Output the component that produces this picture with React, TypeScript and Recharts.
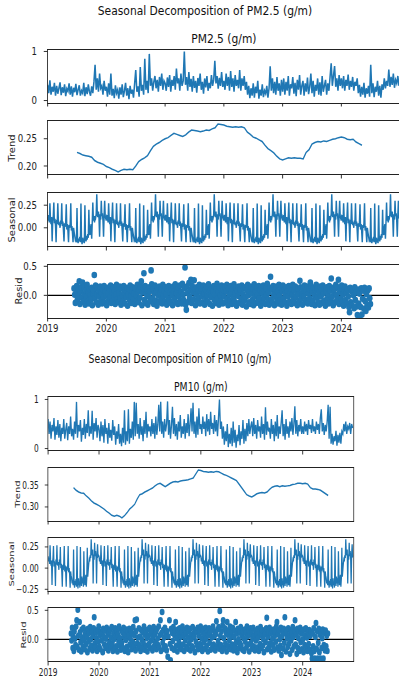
import React from 'react';
import { LineChart, Line, ComposedChart, Scatter, XAxis, YAxis } from 'recharts';

const BLUE = '#1f77b4';
const INK = '#222';

const yearTicks = [2019, 2020, 2021, 2022, 2023, 2024];
const xDomain: [number, number] = [2019, 2025];
const zeroLine = [{ t: 2019, v: 0 }, { t: 2025, v: 0 }];

// ---------- PM2.5 observed (weekly, normalised) ----------
const pm25Obs2019 = [0.32,0.15,0.41,0.12,0.28,0.18,0.36,0.1,0.3,0.14,0.25,0.37,0.11,0.27,0.16,0.33,0.09,0.24,0.19,0.35,0.12,0.29,0.08,0.26,0.17,0.34,0.11,0.22,0.31,0.1,0.2,0.15,0.36,0.09,0.27,0.13,0.33,0.18,0.1,0.29,0.15,0.38,0.73,0.22,0.45,0.18,0.55,0.25,0.3,0.12,0.4,0.2];
const pm25Obs2020 = [0.28,0.08,0.35,0.12,0.55,0.1,0.24,0.05,0.31,0.15,0.22,0.04,0.27,0.12,0.33,0.07,0.2,0.36,0.1,0.25,0.03,0.3,0.14,0.22,0.06,0.34,0.62,0.18,0.29,0.08,0.68,0.2,0.32,0.12,0.85,0.22,0.4,0.15,0.95,0.3,0.45,0.2,0.38,0.5,0.25,0.42,0.18,0.48,0.3,0.55,0.22,0.4];
const pm25Obs2021 = [0.35,0.2,0.47,0.28,0.52,0.18,0.42,0.3,0.5,0.22,0.65,0.35,0.45,0.2,0.55,0.3,0.4,1.0,0.32,0.48,0.2,0.58,0.28,0.44,0.18,0.5,0.26,0.4,0.16,0.46,0.3,0.55,0.22,0.38,0.14,0.45,0.27,0.5,0.2,0.36,0.25,0.52,0.3,0.42,0.81,0.35,0.5,0.24,0.46,0.3,0.58,0.28];
const pm25Obs2022 = [0.4,0.22,0.55,0.3,0.48,0.2,0.6,0.28,0.45,0.18,0.52,0.3,0.42,0.25,0.62,0.2,0.45,0.3,0.5,0.22,0.38,0.12,0.3,0.05,0.25,0.1,0.35,0.06,0.28,0.15,0.4,0.04,0.22,0.1,0.33,0.07,0.2,0.14,0.3,0.06,0.25,0.7,0.2,0.45,0.15,0.38,0.12,0.48,0.2,0.35,0.1,0.42];
const pm25Obs2023 = [0.18,0.45,0.12,0.38,0.2,0.5,0.1,0.33,0.25,0.48,0.14,0.36,0.09,0.42,0.22,0.52,0.12,0.3,0.4,0.1,0.35,0.18,0.47,0.13,0.28,0.55,0.15,0.4,0.08,0.32,0.2,0.45,0.12,0.37,0.1,0.5,0.18,0.3,0.42,0.12,0.35,0.2,0.48,0.76,0.3,0.5,0.7,0.28,0.45,0.2,0.52,0.3];
const pm25Obs2024 = [0.45,0.25,0.5,0.2,0.42,0.3,0.53,0.22,0.4,0.28,0.48,0.2,0.38,0.3,0.45,0.15,0.32,0.08,0.28,0.12,0.36,0.06,0.25,0.14,0.3,0.08,0.73,0.15,0.35,0.07,0.28,0.18,0.4,0.1,0.3,0.06,0.33,0.22,0.45,0.25,0.4,0.3,0.63,0.28,0.48,0.32,0.55,0.26,0.42,0.35,0.5,0.3];

// ---------- PM2.5 trend (every 0.05 yr from 2019.5) ----------
const pm25Trend = [
  0.225,0.223,0.220,0.219,0.218,0.216,0.210,0.207,0.205,0.203,
  0.199,0.197,0.194,0.192,0.189,0.192,0.194,0.193,0.194,0.193,
  0.200,0.208,0.212,0.215,0.219,0.228,0.236,0.240,0.243,0.247,
  0.250,0.252,0.256,0.260,0.258,0.256,0.254,0.257,0.262,0.266,
  0.265,0.264,0.263,0.264,0.266,0.265,0.268,0.270,0.277,0.276,
  0.275,0.273,0.272,0.271,0.272,0.271,0.272,0.270,0.262,0.258,
  0.253,0.251,0.248,0.245,0.238,0.232,0.228,0.224,0.218,0.213,
  0.211,0.213,0.215,0.214,0.215,0.214,0.214,0.213,0.225,0.230,
  0.240,0.243,0.245,0.244,0.246,0.245,0.247,0.249,0.250,0.252,
  0.253,0.252,0.249,0.248,0.249,0.244,0.241,0.238];

// ---------- PM2.5 seasonal (one year, 104 half-weekly steps) ----------
const pm25SeasonalYear = [
  0.12,0.08,0.14,0.06,0.27,0.1,0.04,0.12,-0.15,0.07,
  0.13,0.28,0.05,0.1,0.02,-0.16,0.09,0.04,0.27,0.08,
  0.03,0.06,0.0,0.08,0.04,0.27,0.02,0.07,-0.03,-0.15,
  0.05,0.01,0.06,0.26,-0.02,0.04,-0.04,-0.16,0.03,0.0,
  0.05,0.27,-0.03,0.02,-0.06,-0.16,0.0,-0.05,-0.09,-0.13,
  -0.11,-0.16,0.22,-0.14,-0.17,-0.12,-0.15,-0.1,-0.16,0.27,
  -0.13,-0.18,-0.11,-0.16,-0.14,-0.17,0.25,-0.12,-0.15,-0.09,
  -0.13,-0.07,-0.11,0.2,-0.05,-0.08,0.0,0.04,-0.12,0.06,
  0.28,0.08,0.1,0.06,0.13,0.11,0.15,0.37,0.14,0.12,
  0.18,0.1,-0.1,0.15,0.09,0.3,0.13,0.16,0.08,-0.1,
  0.14,0.3,0.12,0.1];

// ---------- PM2.5 residual (every 1/90 yr from 2019.45) ----------
const pm25Resid = [
  0.12,0.01,-0.13,0.04,0.16,-0.08,-0.02,0.1,0.24,-0.15,0.06,0.14,-0.04,0.22,-0.11,
  0.15,0.02,-0.16,0.08,-0.03,0.18,-0.1,0.05,-0.14,0.11,0.0,-0.07,0.13,-0.17,0.03,
  0.09,0.35,-0.05,0.17,-0.12,0.02,0.12,-0.16,-0.01,0.07,0.15,-0.09,0.04,-0.14,0.1,
  -0.03,0.16,-0.12,0.06,0.0,-0.17,0.13,0.03,-0.08,0.11,-0.04,0.17,-0.13,0.05,-0.1,
  0.14,-0.02,0.08,-0.15,0.01,0.18,-0.07,0.1,-0.12,0.04,0.15,-0.05,-0.16,0.12,0.0,
  -0.1,0.16,0.05,-0.14,0.09,-0.03,0.13,-0.18,0.02,0.11,-0.08,0.17,-0.01,-0.13,0.07,
  0.14,-0.06,0.03,-0.15,0.12,0.0,-0.1,0.18,0.06,-0.12,0.1,-0.04,0.15,0.24,-0.17,
  0.05,0.12,0.38,-0.08,0.16,-0.13,0.02,0.09,-0.16,-0.02,0.14,0.07,-0.1,0.43,0.19,
  -0.05,0.11,-0.15,0.03,0.17,-0.09,0.06,-0.18,0.13,0.0,-0.12,0.15,0.04,-0.07,0.1,
  -0.14,0.18,-0.01,0.08,-0.11,0.14,0.02,-0.16,0.11,-0.05,0.16,-0.09,0.05,-0.13,0.12,
  0.0,-0.17,0.15,0.07,-0.06,0.19,-0.12,0.03,0.1,-0.15,0.13,-0.02,0.17,-0.1,0.06,
  -0.14,0.2,0.01,-0.08,0.12,0.48,-0.16,-0.25,0.15,0.04,-0.11,0.21,-0.03,0.09,0.27,
  -0.13,0.16,0.05,-0.07,0.26,0.11,-0.17,0.02,0.14,-0.1,0.08,-0.04,0.18,-0.14,0.06,
  0.12,-0.01,-0.12,0.17,0.03,-0.16,0.1,-0.06,0.15,0.0,-0.11,0.19,0.05,-0.15,0.09,
  -0.03,0.13,-0.18,0.07,0.16,-0.08,0.02,-0.13,0.11,0.2,-0.05,0.06,-0.16,0.14,0.0,
  -0.1,0.17,0.04,-0.14,0.09,-0.02,0.15,-0.12,0.07,0.18,-0.07,-0.17,0.12,0.01,-0.09,
  0.16,0.05,-0.15,0.11,-0.04,0.19,-0.11,0.03,0.13,-0.18,0.08,-0.01,0.15,-0.13,0.06,
  0.1,-0.06,0.17,-0.16,0.02,0.12,-0.09,0.14,-0.03,-0.19,0.09,0.18,0.0,-0.12,0.06,
  -0.15,0.15,0.03,-0.08,0.11,-0.17,0.19,-0.02,0.07,-0.13,0.13,0.01,-0.1,0.16,-0.05,
  0.09,-0.18,0.14,0.04,-0.11,0.17,-0.04,0.08,-0.15,0.12,0.0,0.2,-0.08,0.05,-0.16,
  0.13,0.32,-0.07,0.1,-0.13,0.16,0.02,-0.17,0.11,-0.03,0.15,-0.1,0.06,-0.14,0.18,
  0.0,-0.09,0.13,-0.16,0.07,0.17,-0.05,0.1,-0.12,0.03,0.14,-0.18,0.08,-0.02,0.16,
  -0.11,0.05,0.12,-0.15,0.01,0.18,-0.07,0.09,-0.13,0.15,-0.03,0.06,-0.17,0.11,0.02,
  -0.1,0.25,0.14,-0.06,0.04,-0.16,0.12,-0.01,0.17,-0.12,0.08,-0.08,0.15,-0.14,0.03,
  0.11,-0.05,0.22,0.16,-0.15,0.06,-0.1,0.13,0.0,-0.17,0.09,0.18,-0.04,0.12,-0.12,
  0.05,-0.16,0.15,-0.02,0.1,-0.13,0.17,0.03,-0.09,0.12,-0.18,0.07,0.14,-0.06,0.01,
  -0.14,0.16,0.08,-0.1,0.29,-0.03,0.13,-0.17,0.05,0.11,-0.12,0.18,0.0,-0.07,0.14,
  0.27,-0.15,0.06,0.12,-0.05,0.17,-0.11,0.02,-0.18,0.09,0.15,-0.08,0.04,-0.14,0.11,
  -0.02,-0.2,-0.29,0.13,-0.12,0.07,-0.17,0.1,0.0,-0.22,0.14,-0.08,0.05,-0.19,-0.34,
  0.1,-0.14,0.03,-0.36,-0.2,0.12,-0.33,-0.06,0.08,-0.23,0.13,-0.1,-0.27,0.02,-0.17,
  0.09,-0.21,0.12,-0.05,-0.15];

// ---------- PM10 observed (weekly, normalised) ----------
const pm10Obs2019 = [0.6,0.3,0.55,0.2,0.48,0.35,0.62,0.18,0.45,0.28,0.58,0.22,0.5,0.15,0.42,0.3,0.6,0.2,0.38,0.52,0.17,0.45,0.3,0.65,0.25,0.4,0.18,0.55,0.3,0.95,0.22,0.48,0.35,0.58,0.14,0.42,0.28,0.6,0.2,0.5,0.32,0.78,0.25,0.45,0.3,0.77,0.18,0.52,0.35,0.62,0.22,0.48];
const pm10Obs2020 = [0.4,0.15,0.55,0.25,0.48,0.12,0.6,0.3,0.42,0.1,0.52,0.22,0.38,0.16,0.58,0.28,0.45,0.08,0.35,0.2,0.5,0.1,0.3,0.05,0.42,0.12,0.78,0.08,0.35,0.15,0.8,0.1,0.4,0.22,0.55,0.18,0.95,0.25,0.93,0.3,0.5,0.2,0.62,0.28,0.45,0.15,0.58,0.3,0.75,0.22,0.5,0.35];
const pm10Obs2021 = [0.45,0.25,0.6,0.3,0.52,0.2,0.65,0.28,0.48,0.89,0.35,0.95,0.3,0.55,0.22,0.6,0.35,0.5,0.96,0.28,0.58,0.2,0.48,0.85,0.3,0.62,0.25,0.5,0.18,0.55,0.35,0.68,0.22,0.45,0.3,0.6,0.2,0.52,0.32,0.7,0.25,0.5,0.82,0.35,0.93,0.3,0.55,0.22,0.65,0.28,0.82,0.4];
const pm10Obs2022 = [0.5,0.3,0.65,0.4,0.55,0.25,0.7,0.35,0.6,0.28,0.75,0.4,0.52,0.3,0.68,0.35,0.58,0.25,0.62,1.0,0.4,0.55,0.2,0.45,0.08,0.35,0.15,0.5,0.03,0.3,0.1,0.42,0.05,0.55,0.12,0.38,0.02,0.28,0.15,0.48,0.07,0.35,0.2,0.58,0.1,0.4,0.15,0.52,0.25,0.6,0.3,0.45];
const pm10Obs2023 = [0.55,0.25,0.62,0.3,0.48,0.2,0.58,0.35,0.45,0.22,0.65,0.3,0.5,0.18,0.84,0.28,0.55,0.35,0.42,0.2,0.6,0.3,0.48,0.15,0.55,0.25,0.68,0.2,0.45,0.3,0.52,0.78,0.25,0.5,0.18,0.6,0.3,0.45,0.22,0.55,0.35,0.62,0.28,0.5,0.86,0.3,0.58,0.25,0.48,0.35,0.6,0.3];
const pm10Obs2024 = [0.45,0.3,0.55,0.35,0.5,0.28,0.58,0.4,0.48,0.32,0.6,0.35,0.45,0.3,0.55,0.38,0.5,0.3,0.62,0.8,0.35,0.52,0.28,0.48,0.35,0.55,0.89,0.2,0.85,0.1,0.3,0.08,0.25,0.15,0.36,0.06,0.28,0.12,0.32,0.1,0.35,0.3,0.5,0.35,0.55,0.3,0.45,0.4,0.52,0.3,0.5,0.42];

// ---------- PM10 trend (every 0.05 yr from 2019.5) ----------
const pm10Trend = [
  0.344,0.338,0.334,0.332,0.331,0.325,0.320,0.314,0.309,0.306,
  0.303,0.299,0.295,0.290,0.286,0.281,0.279,0.281,0.279,0.275,
  0.280,0.287,0.295,0.300,0.306,0.318,0.328,0.330,0.334,0.337,
  0.340,0.343,0.348,0.352,0.354,0.350,0.346,0.350,0.354,0.357,
  0.358,0.357,0.359,0.360,0.361,0.362,0.364,0.366,0.375,0.384,
  0.383,0.381,0.380,0.379,0.380,0.379,0.381,0.380,0.377,0.374,
  0.372,0.369,0.366,0.363,0.360,0.352,0.344,0.336,0.328,0.325,
  0.323,0.326,0.330,0.332,0.333,0.332,0.334,0.340,0.345,0.347,
  0.348,0.346,0.348,0.347,0.348,0.349,0.351,0.352,0.354,0.354,
  0.353,0.354,0.352,0.344,0.341,0.341,0.340,0.338,0.334,0.330,
  0.326];

// ---------- PM10 seasonal (one year, 104 half-weekly steps) ----------
const pm10SeasonalYear = [
  0.14,0.08,0.12,0.05,0.27,0.1,0.03,0.09,-0.2,0.06,
  0.12,0.26,0.02,0.08,0.0,-0.21,0.1,0.04,0.27,0.06,
  0.03,0.07,-0.02,0.1,0.04,0.25,0.0,0.05,-0.05,-0.22,
  0.04,-0.02,0.06,0.26,-0.04,0.03,-0.06,-0.22,0.02,-0.03,
  0.04,0.26,-0.05,0.0,-0.08,-0.23,-0.04,-0.09,-0.12,-0.18,
  -0.14,-0.2,0.22,-0.16,-0.23,-0.15,-0.2,-0.13,-0.22,0.26,
  -0.15,-0.24,-0.12,-0.2,-0.17,-0.23,0.25,-0.14,-0.21,-0.1,
  -0.18,-0.12,-0.22,0.2,-0.1,-0.2,-0.15,-0.08,-0.22,-0.12,
  0.24,-0.1,-0.02,0.05,0.1,0.08,0.15,0.12,0.34,0.18,
  0.15,0.22,-0.18,0.16,0.1,0.3,0.14,0.2,0.12,-0.18,
  0.16,0.28,0.14,0.15];

// ---------- PM10 residual (every 1/90 yr from 2019.45) ----------
const pm10Resid = [
  0.1,-0.02,0.2,-0.15,0.05,-0.2,0.14,0.01,-0.1,0.22,0.33,-0.13,0.51,0.06,-0.18,
  0.3,0.12,-0.05,-0.21,0.17,0.03,-0.12,0.2,-0.01,-0.17,0.09,0.15,-0.08,0.04,-0.22,
  0.18,-0.03,0.11,-0.16,0.21,0.0,-0.11,0.14,-0.19,0.06,0.19,0.38,-0.07,-0.14,0.12,
  0.02,-0.2,0.16,-0.04,0.22,-0.13,0.07,-0.17,0.13,-0.02,0.1,-0.22,0.18,0.04,-0.09,
  0.15,-0.15,0.01,0.2,-0.11,0.08,-0.19,0.12,-0.05,0.17,-0.14,0.03,0.21,-0.08,-0.2,
  0.11,0.0,-0.16,0.19,0.05,-0.12,0.14,-0.21,0.08,-0.03,0.22,-0.1,0.02,-0.18,0.16,
  -0.06,0.12,-0.15,0.2,0.04,-0.2,0.09,-0.01,0.17,-0.13,0.13,-0.22,0.06,0.18,-0.09,
  0.01,0.15,-0.17,0.1,-0.04,0.21,-0.12,0.07,0.33,-0.19,0.14,0.34,-0.07,0.03,-0.15,
  0.19,-0.1,0.05,-0.2,0.16,0.0,-0.14,0.12,-0.06,0.22,-0.18,0.08,0.14,-0.11,0.02,
  -0.21,0.17,0.06,-0.08,0.2,-0.15,0.1,-0.02,0.15,-0.19,0.04,0.21,-0.12,0.09,-0.05,
  0.13,-0.17,0.18,0.01,-0.1,0.22,-0.14,0.07,0.33,-0.2,0.11,0.47,-0.06,0.16,-0.16,
  0.03,0.2,-0.12,0.09,-0.19,0.14,-0.3,0.05,-0.45,0.33,-0.08,-0.36,0.18,-0.15,0.11,
  -0.03,0.21,-0.18,0.07,0.15,0.3,-0.11,0.02,-0.21,0.17,0.1,-0.06,0.19,-0.14,0.04,
  -0.17,0.12,0.22,-0.09,0.06,-0.2,0.16,-0.02,0.1,-0.13,0.2,-0.16,0.03,0.14,-0.07,
  0.18,-0.19,0.08,0.0,-0.12,0.21,-0.15,0.11,0.05,-0.22,0.16,-0.04,0.13,-0.1,0.2,
  -0.17,0.06,0.15,-0.08,0.22,-0.13,0.02,-0.2,0.12,0.18,-0.05,0.09,-0.16,0.2,0.01,
  -0.11,0.14,-0.21,0.07,0.19,-0.06,0.11,-0.18,0.16,0.03,-0.14,0.22,-0.09,0.05,0.13,
  -0.19,0.09,0.31,-0.12,0.17,-0.03,0.21,-0.16,0.49,0.06,-0.1,0.14,-0.2,0.24,0.33,
  0.02,-0.15,0.19,-0.07,0.11,-0.21,0.3,0.08,-0.12,0.16,-0.02,0.22,-0.17,0.05,0.13,
  -0.09,0.2,-0.19,0.04,0.15,-0.13,0.3,-0.05,0.1,-0.22,0.18,0.0,-0.15,0.12,-0.07,
  0.21,-0.11,0.07,-0.18,0.14,0.02,-0.2,0.17,-0.04,0.11,-0.14,0.22,0.05,-0.09,0.16,
  -0.21,0.08,0.19,-0.06,0.13,-0.16,0.01,0.2,-0.12,0.06,-0.19,0.15,-0.02,0.1,-0.14,
  0.18,0.03,-0.2,0.12,-0.08,0.21,-0.15,0.07,0.16,-0.11,0.0,-0.22,0.14,0.09,-0.05,
  0.19,0.37,-0.17,0.04,0.12,-0.13,0.2,-0.07,0.1,-0.21,0.15,0.01,-0.1,0.17,-0.18,
  0.06,0.13,-0.04,0.22,0.3,-0.14,0.09,-0.19,0.16,0.0,-0.11,0.2,-0.27,0.05,0.12,
  -0.16,0.18,-0.06,0.38,0.1,-0.21,0.14,0.02,-0.13,0.19,-0.08,0.07,-0.25,0.16,-0.02,
  0.11,-0.18,0.21,0.04,-0.12,0.15,0.33,-0.09,0.08,-0.25,0.18,-0.15,0.02,0.13,-0.2,
  0.2,-0.05,0.1,-0.17,0.15,0.0,-0.22,0.17,-0.1,0.07,0.19,-0.14,0.03,-0.2,0.12,
  -0.08,0.16,-0.18,0.06,0.13,-0.24,-0.33,0.1,-0.12,0.19,-0.2,-0.33,0.04,0.28,-0.16,
  0.14,-0.33,-0.06,0.18,-0.22,0.08,-0.33,0.12,-0.15,0.02,0.17,-0.33,-0.1,0.11,-0.19,
  0.15,-0.12,0.06,-0.2,0.1];

// ---------- axis tick values ----------
const obsTicks = [0, 1];
const pm25TrendTicks = [0.2, 0.25];
const pm25SeasonalTicks = [0, 0.25];
const residTicks = [0, 0.5];
const pm10TrendTicks = [0.3, 0.35];
const pm10SeasonalTicks = [-0.25, 0, 0.25];

const TREND_START = 2019.5;
const TREND_STEP = 0.05;
const RESID_START = 2019.45;
const RESID_STEP = 1 / 90;

type Pt = { t: number; v: number };

const weekly = (years: number[][]): Pt[] =>
  years.flat().map((v, i) => ({ t: 2019 + i / 52, v }));
const stepped = (vals: number[], start: number, step: number): Pt[] =>
  vals.map((v, i) => ({ t: start + i * step, v }));
const yearly = (pattern: number[], years: number): Pt[] => {
  const out: Pt[] = [];
  for (let y = 0; y < years; y++) {
    pattern.forEach((v, k) => out.push({ t: 2019 + y + k / pattern.length, v }));
  }
  return out;
};

const pm25ObsData = weekly([pm25Obs2019, pm25Obs2020, pm25Obs2021, pm25Obs2022, pm25Obs2023, pm25Obs2024]);
const pm25TrendData = stepped(pm25Trend, TREND_START, TREND_STEP);
const pm25SeasonalData = yearly(pm25SeasonalYear, 6);
const pm25ResidData = stepped(pm25Resid, RESID_START, RESID_STEP);

const pm10ObsData = weekly([pm10Obs2019, pm10Obs2020, pm10Obs2021, pm10Obs2022, pm10Obs2023, pm10Obs2024]);
const pm10TrendData = stepped(pm10Trend, TREND_START, TREND_STEP);
const pm10SeasonalData = yearly(pm10SeasonalYear, 6);
const pm10ResidData = stepped(pm10Resid, RESID_START, RESID_STEP);

const fmt = (v: number, d: number) => v.toFixed(d).replace('-', '\u2212');

const PLOT_W = 411.5;
const PLOT_H = 54;
const MT = 8;

type PanelDef = {
  top: number;
  kind: 'line' | 'scatter';
  data: Pt[];
  domain: [number, number];
  ticks: number[];
  decimals: number;
  stroke?: number;
  showYears?: boolean;
  ylabel?: string;
  ylabelX?: number;
};

function Panel({ p, left }: { p: PanelDef; left: number }) {
  const xh = p.showYears ? 24 : 6;
  const w = left + PLOT_W + 12;
  const h = MT + PLOT_H + xh;
  const margin = { top: MT, right: 12, bottom: 0, left: 0 };
  const xAxis = (
    <XAxis
      type="number"
      dataKey="t"
      domain={xDomain}
      ticks={yearTicks}
      allowDataOverflow
      interval={0}
      axisLine={false}
      tickLine={{ stroke: INK, strokeWidth: 1 }}
      tickSize={3.5}
      tickMargin={3}
      height={xh}
      tick={{ fontSize: 10, fill: INK }}
      tickFormatter={(v: number) => (p.showYears ? String(v) : '')}
    />
  );
  const yAxis = (
    <YAxis
      type="number"
      dataKey="v"
      domain={p.domain}
      ticks={p.ticks}
      allowDataOverflow
      interval={0}
      axisLine={false}
      tickLine={{ stroke: INK, strokeWidth: 1 }}
      tickSize={4.5}
      tickMargin={8}
      width={left}
      tick={{ fontSize: 10, fill: INK }}
      tickFormatter={(v: number) => fmt(v, p.decimals)}
    />
  );
  return (
    <>
      <div style={{ position: 'absolute', left: 0, top: p.top - MT }}>
        {p.kind === 'line' ? (
          <LineChart width={w} height={h} margin={margin} data={p.data}>
            {xAxis}
            {yAxis}
            <Line type="linear" dataKey="v" stroke={BLUE} strokeWidth={p.stroke ?? 1.5} dot={false} isAnimationActive={false} />
          </LineChart>
        ) : (
          <ComposedChart width={w} height={h} margin={margin} data={zeroLine}>
            {xAxis}
            {yAxis}
            <Scatter
              data={p.data}
              dataKey="v"
              fill={BLUE}
              isAnimationActive={false}
              shape={(s: any) => <circle cx={s.cx} cy={s.cy} r={3.3} fill={BLUE} />}
            />
            <Line type="linear" dataKey="v" stroke="#000" strokeWidth={1.3} dot={false} isAnimationActive={false} />
          </ComposedChart>
        )}
      </div>
      <div
        style={{
          position: 'absolute',
          left: left - 0.5,
          top: p.top - 0.5,
          width: PLOT_W + 1,
          height: PLOT_H + 1,
          border: '1px solid #222',
          boxSizing: 'border-box',
          pointerEvents: 'none',
        }}
      />
      {p.ylabel && (
        <div
          style={{
            position: 'absolute',
            left: p.ylabelX,
            top: p.top + PLOT_H / 2,
            transform: 'translate(-50%, -50%) rotate(-90deg)',
            fontSize: 10,
            lineHeight: '11px',
            color: INK,
            whiteSpace: 'nowrap',
          }}
        >
          {p.ylabel}
        </div>
      )}
    </>
  );
}

type FigureDef = {
  scale: number;
  left: number;
  suptitle: string;
  supX: number;
  supTop: number;
  title: string;
  titleTop: number;
  panels: PanelDef[];
};

function Figure({ f }: { f: FigureDef }) {
  const titleStyle: React.CSSProperties = {
    position: 'absolute',
    width: 400,
    textAlign: 'center',
    fontSize: 12.5,
    lineHeight: '14px',
    color: '#111',
    whiteSpace: 'nowrap',
  };
  return (
    <div
      style={{
        position: 'absolute',
        left: 0,
        top: 0,
        width: 600,
        height: 683,
        transform: `scaleX(${f.scale})`,
        transformOrigin: '0 0',
      }}
    >
      <div style={{ ...titleStyle, left: f.supX - 200, top: f.supTop }}>{f.suptitle}</div>
      <div style={{ ...titleStyle, left: f.left + PLOT_W / 2 - 200, top: f.titleTop }}>{f.title}</div>
      {f.panels.map((p, i) => (
        <Panel key={i} p={p} left={f.left} />
      ))}
    </div>
  );
}

const figPM25: FigureDef = {
  scale: 0.8566,
  left: 55.6,
  suptitle: 'Seasonal Decomposition of PM2.5 (g/m)',
  supX: 239.3,
  supTop: 4.4,
  title: 'PM2.5 (g/m)',
  titleTop: 31.7,
  panels: [
    { top: 49, kind: 'line', data: pm25ObsData, domain: [-0.05, 1.05], ticks: obsTicks, decimals: 0, stroke: 1.8 },
    { top: 120.8, kind: 'line', data: pm25TrendData, domain: [0.1835, 0.2825], ticks: pm25TrendTicks, decimals: 2, ylabel: 'Trend', ylabelX: 14 },
    { top: 192.6, kind: 'line', data: pm25SeasonalData, domain: [-0.2125, 0.385], ticks: pm25SeasonalTicks, decimals: 2, ylabel: 'Seasonal', ylabelX: 13.6, stroke: 1.7 },
    { top: 264.4, kind: 'scatter', data: pm25ResidData, domain: [-0.39, 0.54], ticks: residTicks, decimals: 1, ylabel: 'Resid', ylabelX: 21.8, showYears: true },
  ],
};

const figPM10: FigureDef = {
  scale: 0.7424,
  left: 64.8,
  suptitle: 'Seasonal Decomposition of PM10 (g/m)',
  supX: 242.5,
  supTop: 352.4,
  title: 'PM10 (g/m)',
  titleTop: 379.9,
  panels: [
    { top: 396.7, kind: 'line', data: pm10ObsData, domain: [-0.05, 1.05], ticks: obsTicks, decimals: 0, stroke: 1.8 },
    { top: 467, kind: 'line', data: pm10TrendData, domain: [0.268, 0.391], ticks: pm10TrendTicks, decimals: 2, ylabel: 'Trend', ylabelX: 24.2 },
    { top: 537.3, kind: 'line', data: pm10SeasonalData, domain: [-0.27, 0.367], ticks: pm10SeasonalTicks, decimals: 2, ylabel: 'Seasonal', ylabelX: 15.8, stroke: 1.7 },
    { top: 607.7, kind: 'scatter', data: pm10ResidData, domain: [-0.39, 0.54], ticks: residTicks, decimals: 1, ylabel: 'Resid', ylabelX: 31.4, showYears: true },
  ],
};

export default function App() {
  return (
    <div
      style={{
        position: 'absolute',
        left: 0,
        top: 0,
        width: 399,
        height: 683,
        overflow: 'hidden',
        background: '#fff',
        fontFamily: '"DejaVu Sans", sans-serif',
      }}
    >
      <Figure f={figPM25} />
      <Figure f={figPM10} />
    </div>
  );
}
